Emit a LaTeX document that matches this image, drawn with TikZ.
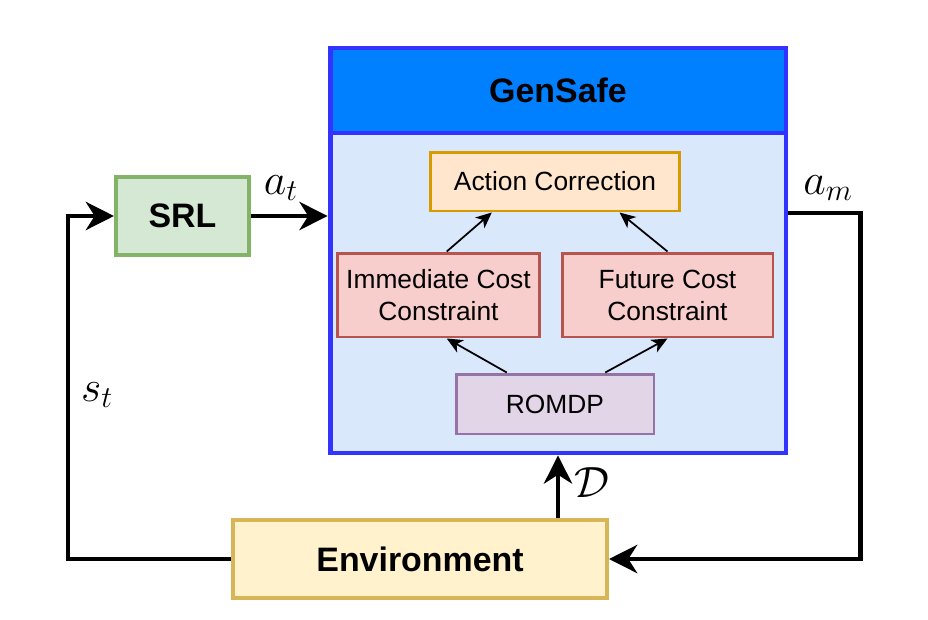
\documentclass[tikz,border=0pt]{standalone}
\usepackage{fontspec}
\setmainfont{Liberation Sans}
\usetikzlibrary{calc,arrows.meta}

\definecolor{gsborder}{HTML}{3333FF}
\definecolor{gshead}{HTML}{007FFF}
\definecolor{gsbody}{HTML}{DAE8FC}
\definecolor{acfill}{HTML}{FFE6CC}
\definecolor{acline}{HTML}{D79B00}
\definecolor{ccfill}{HTML}{F8CECC}
\definecolor{ccline}{HTML}{B85450}
\definecolor{rmfill}{HTML}{E1D5E7}
\definecolor{rmline}{HTML}{9673A6}
\definecolor{srlfill}{HTML}{D5E8D4}
\definecolor{srlline}{HTML}{82B366}
\definecolor{envfill}{HTML}{FFF2CC}
\definecolor{envline}{HTML}{D6B656}

\tikzset{
  box/.style={draw, line width=1.7pt, inner sep=0pt, align=center, font=\fontsize{15}{18.2}\selectfont},
  bigbox/.style={box, line width=2.3pt, font=\fontsize{19.3}{23}\selectfont\bfseries},
  thinarrow/.style={-{Stealth[length=9pt,width=8pt,inset=2.5pt]}, line width=1pt},
  bigarrow/.style={-{Stealth[length=16pt,width=16pt,inset=5pt]}, line width=2.8pt},
  lbl/.style={font=\fontsize{25}{29}\selectfont}
}

\begin{document}
\begin{tikzpicture}[x=0.02cm,y=-0.02cm]
			%%%%% FRAME %%%%%
			\useasboundingbox (0,0) rectangle (928,619);
			
			%%%%% GENSAFE %%%%%
			\node[bigbox, line width=2.8pt, draw=gsborder, fill=gsbody, minimum width=9.12cm, minimum height=8.1cm] (gensafe) at (558,250.5) {};
			\node[bigbox, line width=2.8pt, draw=gsborder, fill=gshead, minimum width=9.12cm, minimum height=1.7cm] (header) at (558,90.5) {GenSafe};
			
			\node[box, draw=acline, fill=acfill, minimum width=5cm, minimum height=1.18cm] (action) at (555,181.5) {Action Correction};
			\node[box, draw=ccline, fill=ccfill, minimum width=4.06cm, minimum height=1.68cm] (immediate) at (438.5,295) {Immediate Cost\\Constraint};
			\node[box, draw=ccline, fill=ccfill, minimum width=4.22cm, minimum height=1.68cm] (future) at (667.5,295) {Future Cost\\Constraint};
			\node[box, draw=rmline, fill=rmfill, minimum width=3.96cm, minimum height=1.2cm] (romdp) at (555,404) {ROMDP};
			
			\draw[thinarrow] ($(immediate.north west)!0.54!(immediate.north east)$) -- ($(action.south west)!0.25!(action.south east)$);
			\draw[thinarrow] (future.north) -- ($(action.south west)!0.755!(action.south east)$);
			\draw[thinarrow] ($(romdp.north west)!0.26!(romdp.north east)$) -- ($(immediate.south west)!0.54!(immediate.south east)$);
			\draw[thinarrow] ($(romdp.north west)!0.75!(romdp.north east)$) -- (future.south);
			
			%%%%% OUTSIDE %%%%%
			\node[bigbox, draw=srlline, fill=srlfill, minimum width=2.66cm, minimum height=1.56cm] (srl) at (182.5,216) {SRL};
			\node[bigbox, draw=envline, fill=envfill, minimum width=7.48cm, minimum height=1.56cm] (env) at (420,559) {Environment};
			
			\coordinate (amstart) at (gensafe.east |- 0,213);
			
			\draw[bigarrow] (srl.east) -- (srl.east -| gensafe.west);
			\draw[bigarrow] (amstart) -- ++(72,0) |- (env.east);
			\draw[bigarrow] (env.west) -- ++(-163,0) |- (srl.west);
			\draw[bigarrow] (gensafe.south |- env.north) -- (gensafe.south);
			
			\node[lbl] (at) at (281,188) {$a_t$};
			\node[lbl] (am) at (828,188) {$a_m$};
			\node[lbl] (st) at (97,395) {$s_t$};
			\node[lbl] (data) at (592,483) {$\mathcal{D}$};
			
			%%%%% END %%%%%
\end{tikzpicture}
\end{document}
